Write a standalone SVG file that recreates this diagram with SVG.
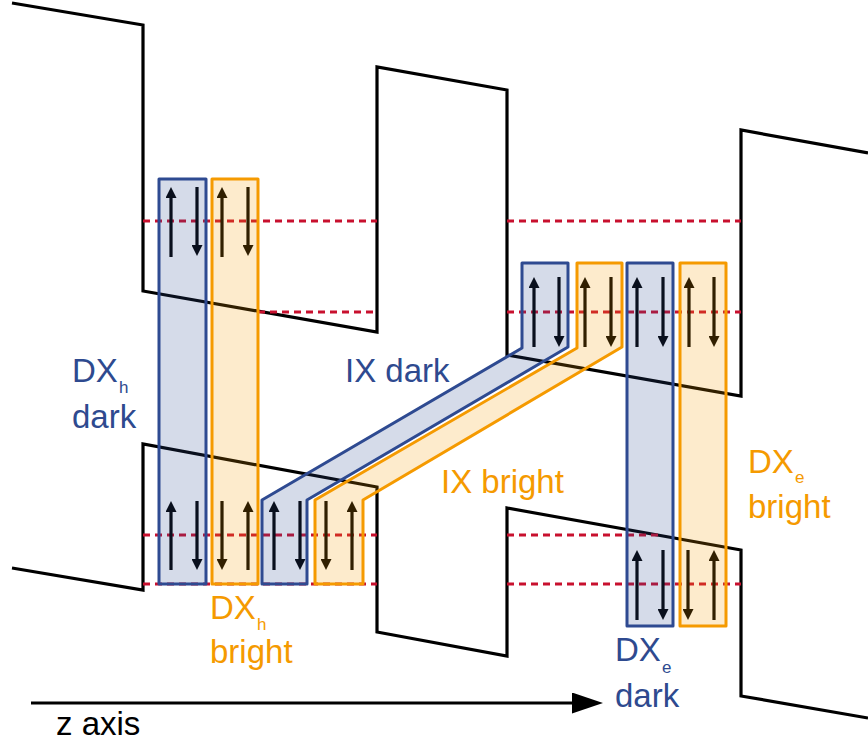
<svg xmlns="http://www.w3.org/2000/svg" width="868" height="745" viewBox="0 0 868 745">
<style>
.band{fill:none;stroke:#000;stroke-width:3.2;stroke-linejoin:miter}
.lvl{fill:none;stroke:#c8102e;stroke-width:3;stroke-dasharray:7 5}
.arr{stroke:#000;stroke-width:3.2;fill:none;marker-end:url(#ah)}
.bx{stroke:#2e4a91;fill:#2e4a91;fill-opacity:0.2;stroke-width:3;stroke-linejoin:round}
.ox{stroke:#f59a00;fill:#f59a00;fill-opacity:0.2;stroke-width:3;stroke-linejoin:round}
.t{font-family:"Liberation Sans",Arial,sans-serif;font-size:33px}
.s{font-size:17px}
.bl{fill:#2e4a8f}
.or{fill:#f59a00}
.k{fill:#000}
</style>
<defs>
<marker id="ah" markerUnits="userSpaceOnUse" markerWidth="11" markerHeight="11" viewBox="0 0 11 11" refX="5" refY="5.5" orient="auto">
<path d="M0,0 L11,5.5 L0,11 z" fill="#000"/>
</marker>
<marker id="zh" markerUnits="userSpaceOnUse" markerWidth="31" markerHeight="21" viewBox="0 0 31 21" refX="10" refY="10.5" orient="auto">
<path d="M0,0 L31,10.5 L0,21 z" fill="#000"/>
</marker>
</defs>

<g id="band-profiles">
<polyline class="band" points="12,3 143,25 143,291 377,332 377,67 507,90 507,355 741,396 741,130 868,153"/>
<polyline class="band" points="12,568 143,590 143,444 377,487 377,632 507,656 507,508 741,550 741,696 868,718"/>
</g>

<g id="levels">
<line class="lvl" x1="143" y1="221" x2="377" y2="221"/>
<line class="lvl" x1="507" y1="221" x2="741" y2="221"/>
<line class="lvl" x1="258" y1="312" x2="377" y2="312"/>
<line class="lvl" x1="507" y1="312" x2="741" y2="312"/>
<line class="lvl" x1="143" y1="535" x2="377" y2="535"/>
<line class="lvl" x1="507" y1="535" x2="658" y2="535"/>
<line class="lvl" x1="143" y1="584" x2="377" y2="584"/>
<line class="lvl" x1="507" y1="584" x2="741" y2="584"/>
</g>

<g id="spin-arrows">
<line class="arr" x1="171" y1="257" x2="171" y2="193"/>
<line class="arr" x1="197" y1="187" x2="197" y2="250"/>
<line class="arr" x1="222" y1="257" x2="222" y2="193"/>
<line class="arr" x1="248" y1="187" x2="248" y2="250"/>

<line class="arr" x1="171" y1="570" x2="171" y2="507"/>
<line class="arr" x1="197" y1="501" x2="197" y2="564"/>
<line class="arr" x1="222" y1="501" x2="222" y2="564"/>
<line class="arr" x1="248" y1="570" x2="248" y2="507"/>
<line class="arr" x1="274" y1="570" x2="274" y2="507"/>
<line class="arr" x1="300" y1="501" x2="300" y2="564"/>
<line class="arr" x1="326" y1="501" x2="326" y2="564"/>
<line class="arr" x1="352" y1="570" x2="352" y2="507"/>

<line class="arr" x1="534" y1="347" x2="534" y2="283"/>
<line class="arr" x1="559" y1="277" x2="559" y2="341"/>
<line class="arr" x1="585" y1="347" x2="585" y2="283"/>
<line class="arr" x1="611" y1="277" x2="611" y2="341"/>
<line class="arr" x1="637" y1="347" x2="637" y2="283"/>
<line class="arr" x1="663" y1="277" x2="663" y2="341"/>
<line class="arr" x1="689" y1="347" x2="689" y2="283"/>
<line class="arr" x1="714" y1="277" x2="714" y2="341"/>

<line class="arr" x1="637" y1="620" x2="637" y2="556"/>
<line class="arr" x1="663" y1="550" x2="663" y2="614"/>
<line class="arr" x1="688" y1="550" x2="688" y2="614"/>
<line class="arr" x1="714" y1="620" x2="714" y2="556"/>
</g>

<g id="dxh-dark"><rect class="bx" x="159" y="179" width="47" height="405"/></g>
<g id="dxh-bright"><rect class="ox" x="212" y="179" width="46" height="405"/></g>
<g id="ix-dark"><polygon class="bx" points="262,584 262,500 522,348 522,263 568,263 568,347 307,500 307,584"/></g>
<g id="ix-bright"><polygon class="ox" points="315,584 315,500 577,348 577,263 622,263 622,347 363,500 363,584"/></g>
<g id="dxe-dark"><rect class="bx" x="627" y="263" width="46" height="363"/></g>
<g id="dxe-bright"><rect class="ox" x="680" y="263" width="46" height="363"/></g>

<g id="labels">
<text class="t bl" x="72" y="382">DX<tspan class="s" x="119" y="393">h</tspan></text>
<text class="t bl" x="72" y="428">dark</text>
<text class="t bl" x="345" y="382">IX dark</text>
<text class="t or" x="441" y="493">IX bright</text>
<text class="t or" x="210" y="619">DX<tspan class="s" x="257" y="630">h</tspan></text>
<text class="t or" x="210" y="663">bright</text>
<text class="t or" x="748" y="473">DX<tspan class="s" x="795" y="483">e</tspan></text>
<text class="t or" x="748" y="518">bright</text>
<text class="t bl" x="615" y="661">DX<tspan class="s" x="662" y="673">e</tspan></text>
<text class="t bl" x="615" y="707">dark</text>
<text class="t k" x="56" y="735">z axis</text>
</g>

<g id="connectors">
<line x1="31" y1="703" x2="582" y2="703" stroke="#000" stroke-width="3.2" marker-end="url(#zh)"/>
</g>
</svg>
